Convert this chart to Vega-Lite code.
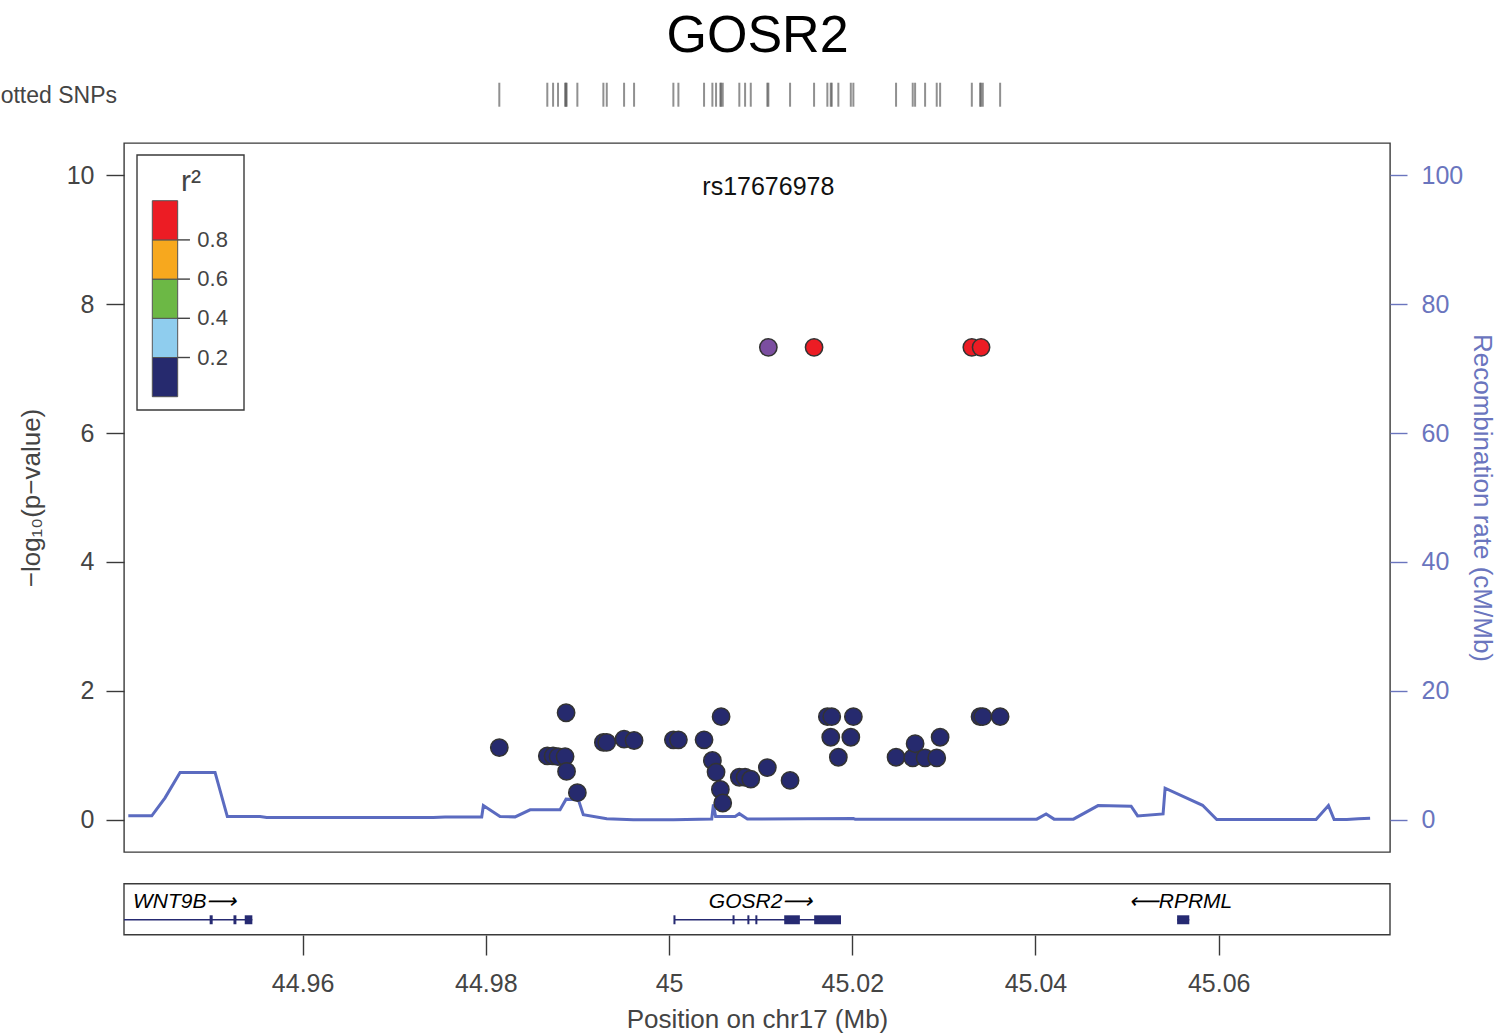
{
  "$schema": "https://vega.github.io/schema/vega-lite/v6.json",
  "width": 1266,
  "height": 709,
  "autosize": {"type": "none"},
  "padding": {"left": 124, "top": 143, "right": 110, "bottom": 182},
  "background": "white",
  "config": {
    "font": "Liberation Sans",
    "view": {"stroke": "#3a3a3a", "strokeWidth": 1.4},
    "axis": {"grid": false, "domain": false, "labelFont": "Liberation Sans", "titleFont": "Liberation Sans", "titleFontWeight": "normal", "labelFontSize": 25, "titleFontSize": 26, "tickWidth": 1.4}
  },
  "datasets": {
    "snps": [
      {"pos": 44.98147, "logp": 1.12, "ld": "0.0–0.2"},
      {"pos": 44.98671, "logp": 0.99, "ld": "0.0–0.2"},
      {"pos": 44.98734, "logp": 0.99, "ld": "0.0–0.2"},
      {"pos": 44.98788, "logp": 0.98, "ld": "0.0–0.2"},
      {"pos": 44.98865, "logp": 0.98, "ld": "0.0–0.2"},
      {"pos": 44.98876, "logp": 1.66, "ld": "0.0–0.2"},
      {"pos": 44.98881, "logp": 0.75, "ld": "0.0–0.2"},
      {"pos": 44.98999, "logp": 0.42, "ld": "0.0–0.2"},
      {"pos": 44.99283, "logp": 1.2, "ld": "0.0–0.2"},
      {"pos": 44.9932, "logp": 1.2, "ld": "0.0–0.2"},
      {"pos": 44.99509, "logp": 1.25, "ld": "0.0–0.2"},
      {"pos": 44.99618, "logp": 1.23, "ld": "0.0–0.2"},
      {"pos": 45.00047, "logp": 1.24, "ld": "0.0–0.2"},
      {"pos": 45.00102, "logp": 1.24, "ld": "0.0–0.2"},
      {"pos": 45.00382, "logp": 1.24, "ld": "0.0–0.2"},
      {"pos": 45.00473, "logp": 0.92, "ld": "0.0–0.2"},
      {"pos": 45.00513, "logp": 0.74, "ld": "0.0–0.2"},
      {"pos": 45.00568, "logp": 1.6, "ld": "0.0–0.2"},
      {"pos": 45.0056, "logp": 0.47, "ld": "0.0–0.2"},
      {"pos": 45.00586, "logp": 0.26, "ld": "0.0–0.2"},
      {"pos": 45.00767, "logp": 0.66, "ld": "0.0–0.2"},
      {"pos": 45.0083, "logp": 0.66, "ld": "0.0–0.2"},
      {"pos": 45.00892, "logp": 0.63, "ld": "0.0–0.2"},
      {"pos": 45.01073, "logp": 0.81, "ld": "0.0–0.2"},
      {"pos": 45.01321, "logp": 0.61, "ld": "0.0–0.2"},
      {"pos": 45.01728, "logp": 1.6, "ld": "0.0–0.2"},
      {"pos": 45.01765, "logp": 1.28, "ld": "0.0–0.2"},
      {"pos": 45.01776, "logp": 1.6, "ld": "0.0–0.2"},
      {"pos": 45.01848, "logp": 0.97, "ld": "0.0–0.2"},
      {"pos": 45.01984, "logp": 1.28, "ld": "0.0–0.2"},
      {"pos": 45.02012, "logp": 1.6, "ld": "0.0–0.2"},
      {"pos": 45.02478, "logp": 0.97, "ld": "0.0–0.2"},
      {"pos": 45.0266, "logp": 0.96, "ld": "0.0–0.2"},
      {"pos": 45.02686, "logp": 1.18, "ld": "0.0–0.2"},
      {"pos": 45.02795, "logp": 0.96, "ld": "0.0–0.2"},
      {"pos": 45.02922, "logp": 0.96, "ld": "0.0–0.2"},
      {"pos": 45.02959, "logp": 1.28, "ld": "0.0–0.2"},
      {"pos": 45.03395, "logp": 1.6, "ld": "0.0–0.2"},
      {"pos": 45.03425, "logp": 1.6, "ld": "0.0–0.2"},
      {"pos": 45.03614, "logp": 1.6, "ld": "0.0–0.2"},
      {"pos": 45.01084, "logp": 7.33, "ld": "index", "snp": "rs17676978"},
      {"pos": 45.01583, "logp": 7.33, "ld": "0.8–1.0"},
      {"pos": 45.03305, "logp": 7.33, "ld": "0.8–1.0"},
      {"pos": 45.03406, "logp": 7.33, "ld": "0.8–1.0"}
    ],
    "recomb": [
      {"pos": 44.94097, "rate": 0.62},
      {"pos": 44.94353, "rate": 0.62},
      {"pos": 44.94498, "rate": 3.4},
      {"pos": 44.94662, "rate": 7.35},
      {"pos": 44.95044, "rate": 7.35},
      {"pos": 44.95178, "rate": 0.5},
      {"pos": 44.95535, "rate": 0.5},
      {"pos": 44.95608, "rate": 0.35},
      {"pos": 44.97427, "rate": 0.35},
      {"pos": 44.97555, "rate": 0.42},
      {"pos": 44.97955, "rate": 0.42},
      {"pos": 44.97973, "rate": 2.2},
      {"pos": 44.98155, "rate": 0.5},
      {"pos": 44.98319, "rate": 0.45},
      {"pos": 44.98483, "rate": 1.55},
      {"pos": 44.9881, "rate": 1.55},
      {"pos": 44.98876, "rate": 3.2},
      {"pos": 44.9901, "rate": 3.1},
      {"pos": 44.99064, "rate": 0.8},
      {"pos": 44.9932, "rate": 0.15},
      {"pos": 44.9961, "rate": 0.0},
      {"pos": 45.00047, "rate": 0.0},
      {"pos": 45.00466, "rate": 0.12},
      {"pos": 45.00484, "rate": 2.4},
      {"pos": 45.00508, "rate": 0.5},
      {"pos": 45.00721, "rate": 0.5},
      {"pos": 45.00767, "rate": 0.95},
      {"pos": 45.00855, "rate": 0.12},
      {"pos": 45.02012, "rate": 0.2},
      {"pos": 45.02031, "rate": 0.1},
      {"pos": 45.04014, "rate": 0.1},
      {"pos": 45.04116, "rate": 0.9},
      {"pos": 45.04203, "rate": 0.1},
      {"pos": 45.04414, "rate": 0.1},
      {"pos": 45.04683, "rate": 2.2},
      {"pos": 45.05044, "rate": 2.1},
      {"pos": 45.05115, "rate": 0.6},
      {"pos": 45.05393, "rate": 0.9},
      {"pos": 45.05415, "rate": 4.9},
      {"pos": 45.05824, "rate": 2.25},
      {"pos": 45.05979, "rate": 0.05},
      {"pos": 45.07063, "rate": 0.05},
      {"pos": 45.07198, "rate": 2.2},
      {"pos": 45.0726, "rate": 0.05},
      {"pos": 45.07398, "rate": 0.05},
      {"pos": 45.07525, "rate": 0.15},
      {"pos": 45.07653, "rate": 0.25}
    ],
    "genes": [
      {"gene": "WNT9B", "start": 44.9405, "end": 44.95451, "mid": 44.94713, "label": "WNT9B⟶"},
      {"gene": "GOSR2", "start": 45.00059, "end": 45.01877, "mid": 45.00999, "label": "GOSR2⟶"},
      {"gene": "RPRML", "start": 45.05546, "end": 45.05679, "mid": 45.05583, "label": "⟵RPRML"}
    ],
    "exons": [
      {"gene": "WNT9B", "start": 44.94985, "end": 44.95018},
      {"gene": "WNT9B", "start": 44.95245, "end": 44.95277},
      {"gene": "WNT9B", "start": 44.95368, "end": 44.95451},
      {"gene": "GOSR2", "start": 45.00048, "end": 45.0007},
      {"gene": "GOSR2", "start": 45.00693, "end": 45.00715},
      {"gene": "GOSR2", "start": 45.00855, "end": 45.00877},
      {"gene": "GOSR2", "start": 45.00942, "end": 45.00964},
      {"gene": "GOSR2", "start": 45.01257, "end": 45.01428},
      {"gene": "GOSR2", "start": 45.01584, "end": 45.01877},
      {"gene": "RPRML", "start": 45.05546, "end": 45.05679}
    ],
    "ldbins": [
      {"ld": "0.0–0.2", "lo": 0.0, "hi": 0.2},
      {"ld": "0.2–0.4", "lo": 0.2, "hi": 0.4},
      {"ld": "0.4–0.6", "lo": 0.4, "hi": 0.6},
      {"ld": "0.6–0.8", "lo": 0.6, "hi": 0.8},
      {"ld": "0.8–1.0", "lo": 0.8, "hi": 1.0}
    ],
    "ldticks": [
      {"v": 0.2, "label": "0.2"},
      {"v": 0.4, "label": "0.4"},
      {"v": 0.6, "label": "0.6"},
      {"v": 0.8, "label": "0.8"}
    ]
  },
  "resolve": {"scale": {"y": "independent"}},
  "layer": [
    {
      "data": {"name": "recomb"},
      "mark": {"type": "line", "color": "#5b6bc0", "strokeWidth": 3},
      "encoding": {
        "x": {
          "field": "pos", "type": "quantitative",
          "scale": {"domain": [44.9405, 45.0787], "nice": false, "zero": false},
          "axis": {"orient": "bottom", "offset": 83, "values": [44.96, 44.98, 45, 45.02, 45.04, 45.06], "format": ".2~f", "tickSize": 20, "tickColor": "#3a3a3a", "labelColor": "#444", "labelPadding": 16, "title": "Position on chr17 (Mb)", "titleColor": "#444", "titlePadding": 10}
        },
        "y": {
          "field": "rate", "type": "quantitative",
          "scale": {"domain": [-5, 105], "nice": false, "zero": false},
          "axis": {"orient": "right", "values": [0, 20, 40, 60, 80, 100], "tickSize": 17, "tickColor": "#6a75be", "labelColor": "#6a75be", "labelPadding": 14, "title": "Recombination rate (cM/Mb)", "titleColor": "#6a75be", "titlePadding": 6}
        }
      }
    },
    {
      "layer": [
        {
          "data": {"name": "snps"},
          "mark": {"type": "rule", "color": "#555", "strokeWidth": 2, "opacity": 0.65},
          "encoding": {
            "x": {"field": "pos", "type": "quantitative", "scale": {"domain": [44.9405, 45.0787], "nice": false, "zero": false}},
            "y": {"datum": 11.435, "type": "quantitative"},
            "y2": {"datum": 11.063}
          }
        },
        {
          "data": {"name": "snps"},
          "mark": {"type": "circle", "size": 300, "stroke": "#333", "strokeWidth": 1.5, "opacity": 1},
          "encoding": {
            "x": {"field": "pos", "type": "quantitative", "scale": {"domain": [44.9405, 45.0787], "nice": false, "zero": false}, "axis": {"title": "Position on chr17 (Mb)"}},
            "y": {
              "field": "logp", "type": "quantitative",
              "scale": {"domain": [-0.5, 10.5], "nice": false, "zero": false},
              "axis": {"orient": "left", "values": [0, 2, 4, 6, 8, 10], "format": "d", "tickSize": 18, "tickColor": "#3a3a3a", "labelColor": "#444", "labelPadding": 12, "title": "−log₁₀(p−value)", "titleColor": "#444", "titlePadding": 22}
            },
            "color": {
              "field": "ld", "type": "nominal",
              "scale": {"domain": ["index", "0.8–1.0", "0.6–0.8", "0.4–0.6", "0.2–0.4", "0.0–0.2"], "range": ["#7b4ea0", "#ec1c24", "#f7a81e", "#6cb845", "#8fcdee", "#262a6e"]},
              "legend": null
            }
          }
        },
        {
          "data": {"name": "snps"},
          "transform": [{"filter": "datum.ld == 'index'"}],
          "mark": {"type": "text", "fontSize": 25, "color": "#111", "baseline": "middle"},
          "encoding": {
            "x": {"field": "pos", "type": "quantitative"},
            "y": {"datum": 9.82, "type": "quantitative"},
            "text": {"field": "snp"}
          }
        },
        {
          "data": {"values": [{}]},
          "mark": {"type": "rect", "filled": false, "stroke": "#3a3a3a", "strokeWidth": 1.4},
          "encoding": {
            "x": {"datum": 44.9405, "type": "quantitative"},
            "x2": {"datum": 45.0787},
            "y": {"datum": -0.993, "type": "quantitative"},
            "y2": {"datum": -1.784}
          }
        },
        {
          "data": {"name": "genes"},
          "mark": {"type": "rule", "color": "#262a72", "strokeWidth": 1.5},
          "encoding": {
            "x": {"field": "start", "type": "quantitative"},
            "x2": {"field": "end"},
            "y": {"datum": -1.552, "type": "quantitative"}
          }
        },
        {
          "data": {"name": "exons"},
          "mark": {"type": "rect", "color": "#262a72"},
          "encoding": {
            "x": {"field": "start", "type": "quantitative"},
            "x2": {"field": "end"},
            "y": {"datum": -1.482, "type": "quantitative"},
            "y2": {"datum": -1.621}
          }
        },
        {
          "data": {"name": "genes"},
          "mark": {"type": "text", "fontSize": 21, "fontStyle": "italic", "color": "#000", "baseline": "middle"},
          "encoding": {
            "x": {"field": "mid", "type": "quantitative"},
            "y": {"datum": -1.28, "type": "quantitative"},
            "text": {"field": "label"}
          }
        },
        {
          "data": {"values": [{"t": "Plotted SNPs"}]},
          "mark": {"type": "text", "fontSize": 23, "color": "#444", "align": "right", "baseline": "middle"},
          "encoding": {
            "x": {"datum": 44.93974, "type": "quantitative"},
            "y": {"datum": 11.234, "type": "quantitative"},
            "text": {"field": "t"}
          }
        },
        {
          "data": {"values": [{"t": "GOSR2"}]},
          "mark": {"type": "text", "fontSize": 52, "color": "#000", "align": "center", "baseline": "alphabetic"},
          "encoding": {
            "x": {"datum": 45.00966, "type": "quantitative"},
            "y": {"datum": 11.916, "type": "quantitative"},
            "text": {"field": "t"}
          }
        }
      ]
    },
    {
      "layer": [
        {
          "data": {"values": [{}]},
          "mark": {"type": "rect", "filled": false, "stroke": "#3a3a3a", "strokeWidth": 1.4},
          "encoding": {
            "x": {"datum": 44.94192, "type": "quantitative"},
            "x2": {"datum": 44.9536},
            "y": {"datum": -0.0678, "type": "quantitative", "scale": {"domain": [-2.3229, 1.2944], "nice": false, "zero": false}, "axis": null},
            "y2": {"datum": 1.2332}
          }
        },
        {
          "data": {"name": "ldbins"},
          "mark": {"type": "rect", "stroke": "#555", "strokeWidth": 1},
          "encoding": {
            "x": {"datum": 44.94359, "type": "quantitative"},
            "x2": {"datum": 44.94636},
            "y": {"field": "lo", "type": "quantitative"},
            "y2": {"field": "hi"},
            "color": {
              "field": "ld", "type": "nominal",
              "scale": {"domain": ["index", "0.8–1.0", "0.6–0.8", "0.4–0.6", "0.2–0.4", "0.0–0.2"], "range": ["#7b4ea0", "#ec1c24", "#f7a81e", "#6cb845", "#8fcdee", "#262a6e"]},
              "legend": null
            }
          }
        },
        {
          "data": {"name": "ldticks"},
          "mark": {"type": "rule", "color": "#444", "strokeWidth": 1.4},
          "encoding": {
            "x": {"datum": 44.94636, "type": "quantitative"},
            "x2": {"datum": 44.9477},
            "y": {"field": "v", "type": "quantitative"}
          }
        },
        {
          "data": {"name": "ldticks"},
          "mark": {"type": "text", "fontSize": 22, "color": "#444", "align": "left", "baseline": "middle"},
          "encoding": {
            "x": {"datum": 44.9485, "type": "quantitative"},
            "y": {"field": "v", "type": "quantitative"},
            "text": {"field": "label"}
          }
        },
        {
          "data": {"values": [{"t": "r²"}]},
          "mark": {"type": "text", "fontSize": 30, "color": "#444", "align": "center", "baseline": "alphabetic"},
          "encoding": {
            "x": {"datum": 44.94781, "type": "quantitative"},
            "y": {"datum": 1.051, "type": "quantitative"},
            "text": {"field": "t"}
          }
        }
      ]
    }
  ]
}
